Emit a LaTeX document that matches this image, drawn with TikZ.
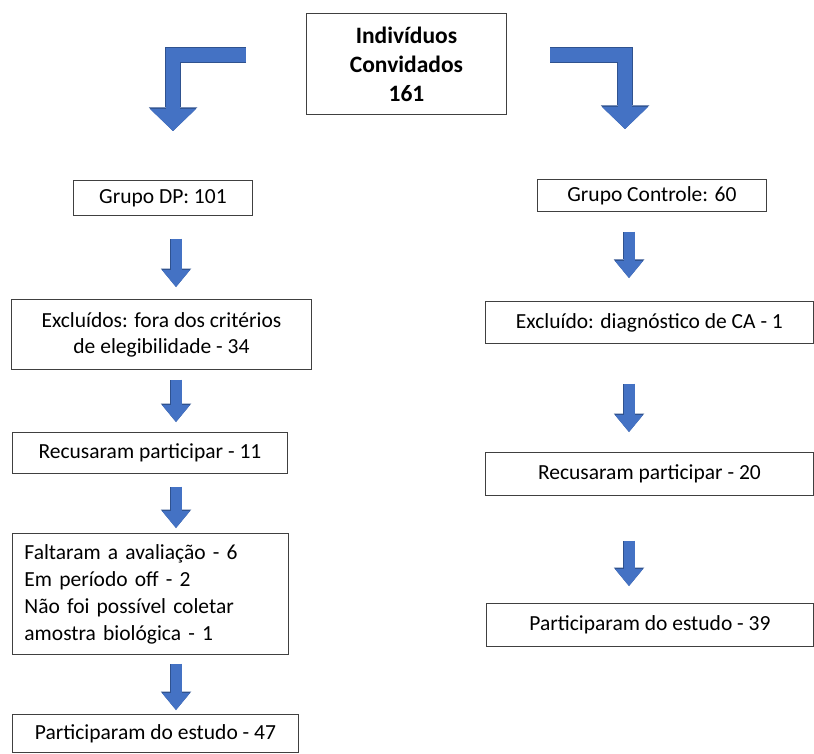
\documentclass[tikz,border=0pt]{standalone}
\usepackage{fontspec}
\setmainfont{Carlito}
\usetikzlibrary{arrows.meta}

\definecolor{arrowblue}{RGB}{68,114,196}
\definecolor{arrowedge}{RGB}{47,82,143}
\newcommand{\boxfont}{\fontsize{21.5}{26}\selectfont}
\newcommand{\topfont}{\fontsize{23.5}{29}\selectfont\bfseries}

\tikzset{
  box/.style={draw=black!75, line width=0.9pt, anchor=north west, inner sep=0pt, align=center, font=\boxfont, text=black},
  smallarrow/.style={draw=arrowblue, line width=11pt, -{Triangle[width=28pt,length=17pt,line width=0pt]},
    preaction={draw=arrowedge, line width=12.4pt, -{Triangle[width=30.5pt,length=18.5pt,line width=0pt]}}},
  bigarrow/.style={draw=arrowblue, line width=14pt, -{Triangle[width=46pt,length=22pt,line width=0pt]},
    preaction={draw=arrowedge, line width=15.4pt, -{Triangle[width=48.5pt,length=23.5pt,line width=0pt]}}},
}

\begin{document}
\begin{tikzpicture}[x=1pt,y=-1pt]
    \useasboundingbox (0,0) rectangle (814,754);

    % top
    \node[box, font=\topfont, minimum width=200pt, minimum height=101pt] (top) at (306,13) {Indivíduos\\Convidados\\161};

    % left column
    \node[box, minimum width=179pt, minimum height=35pt] (dp) at (73,180) {Grupo DP: 101};
    \node[box, minimum width=300pt, minimum height=70pt] (exclL) at (11,299) {Excluídos: fora dos critérios\\de elegibilidade - 34};
    \node[box, minimum width=275pt, minimum height=41pt] (recusL) at (12,432) {Recusaram participar - 11};
    \node[box, inner xsep=12pt, text width=252pt, align=left, minimum height=121pt, font=\fontsize{21.5}{27}\selectfont] (falt) at (12,533) {Faltaram a avaliação - 6\\Em período off - 2\\Não foi possível coletar\\amostra biológica - 1};
    \node[box, minimum width=286pt, minimum height=38pt] (partL) at (12,714) {Participaram do estudo - 47};

    % right column
    \node[box, minimum width=229pt, minimum height=32pt] (ctrl) at (537,179) {Grupo Controle: 60};
    \node[box, minimum width=328pt, minimum height=42pt] (exclR) at (485,301) {Excluído: diagnóstico de CA - 1};
    \node[box, minimum width=328pt, minimum height=43pt] (recusR) at (485,452) {Recusaram participar - 20};
    \node[box, minimum width=327pt, minimum height=43pt] (partR) at (486,603) {Participaram do estudo - 39};

    \coordinate (colL) at (176,0);
    \coordinate (colR) at (629,0);

    % bent arrows from the top box
    \coordinate (lstart) at (246,55);
    \coordinate (ltip) at (173,131);
    \coordinate (rstart) at (550,55);
    \coordinate (rtip) at (625,129);
    \draw[bigarrow] (lstart) -| (ltip);
    \draw[bigarrow] (rstart) -| (rtip);

    % left arrows
    \draw[smallarrow, shorten <=23pt, shorten >=12pt] (dp.south -| colL) -- (exclL.north -| colL);
    \draw[smallarrow, shorten <=10pt, shorten >=10pt] (exclL.south -| colL) -- (recusL.north -| colL);
    \draw[smallarrow, shorten <=13pt, shorten >=5pt] (recusL.south -| colL) -- (falt.north -| colL);
    \draw[smallarrow, shorten <=9pt, shorten >=4pt] (falt.south -| colL) -- (partL.north -| colL);

    % right arrows
    \draw[smallarrow, shorten <=20pt, shorten >=23pt] (ctrl.south -| colR) -- (exclR.north -| colR);
    \draw[smallarrow, shorten <=40pt, shorten >=20pt] (exclR.south -| colR) -- (recusR.north -| colR);
    \draw[smallarrow, shorten <=45pt, shorten >=17pt] (recusR.south -| colR) -- (partR.north -| colR);

\end{tikzpicture}
\end{document}
